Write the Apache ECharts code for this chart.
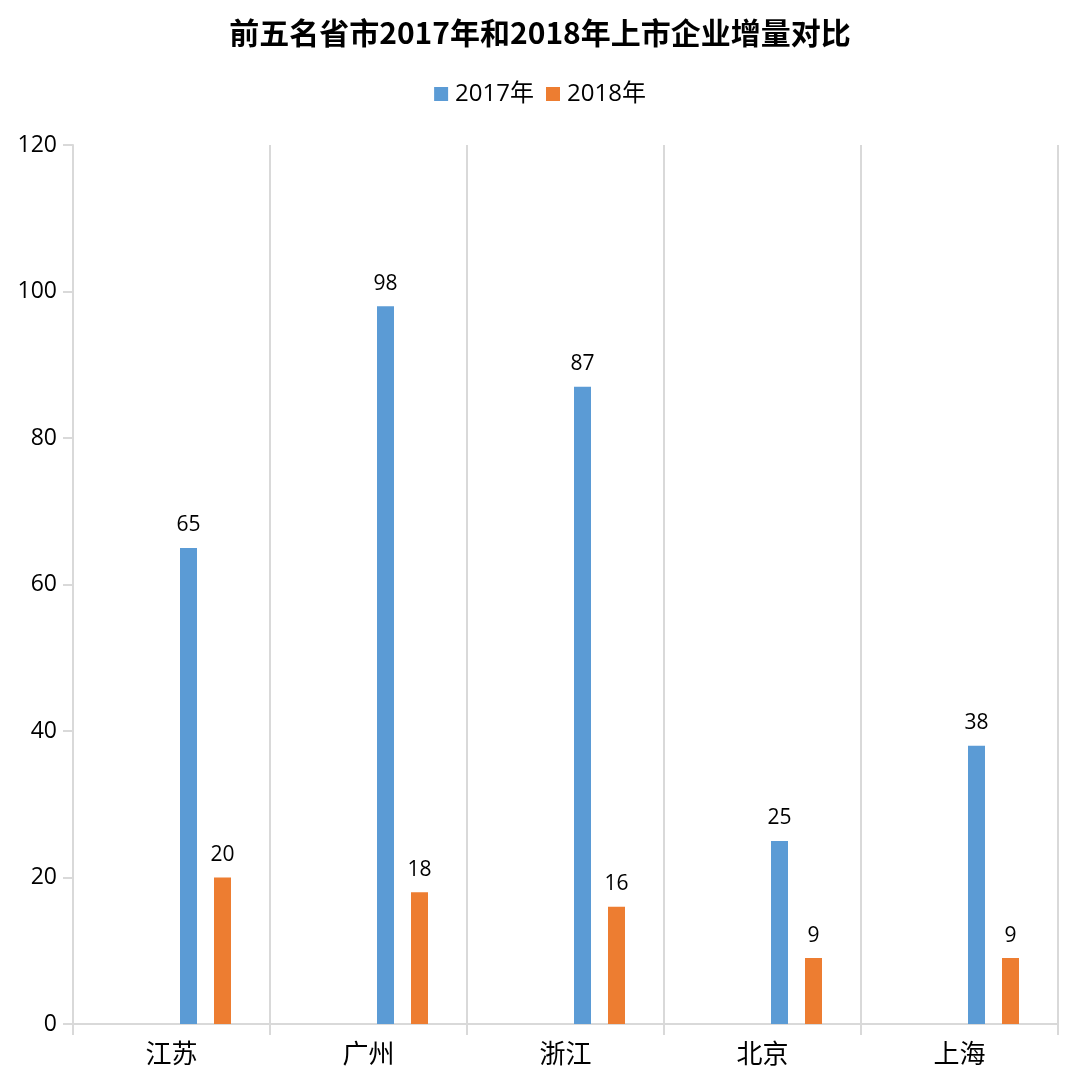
<!DOCTYPE html>
<html><head><meta charset="utf-8">
<script src="https://cdn.jsdelivr.net/npm/echarts@6/dist/echarts.min.js"></script>
<style>html,body{margin:0;padding:0;background:#fff}#c{width:1080px;height:1091px}</style>
</head><body><div id="c"></div>
<script>
const categories = ['江苏','广州','浙江','北京','上海'];
const seriesNames = ['2017年','2018年'];
const values2017 = [65, 98, 87, 25, 38];
const values2018 = [20, 18, 16, 9, 9];
const yTicks = [0, 20, 40, 60, 80, 100, 120];

const font = '"Open Sans","Noto Sans CJK SC",sans-serif';
const chart = echarts.init(document.getElementById('c'));
const lbl = {show:true, position:'top', distance:12, color:'#000', fontSize:21, fontFamily:font};
chart.setOption({
  animation:false,
  title:{text:'前五名省市2017年和2018年上市企业增量对比', left:'center', top:13,
    textStyle:{fontFamily:'"Noto Sans CJK SC",sans-serif', fontWeight:'bold', fontSize:30, color:'#000'}},
  legend:{data:seriesNames, top:77, left:'center', itemWidth:14, itemHeight:14, itemGap:12,
    icon:'rect',
    textStyle:{fontFamily:font, fontSize:24, color:'#000', padding:[0,0,0,2]}},
  grid:{left:73, right:22, top:145, bottom:67, containLabel:false},
  xAxis:{type:'category', data:categories, boundaryGap:true,
    axisLine:{lineStyle:{color:'#d9d9d9', width:2}},
    axisTick:{show:true, length:11, lineStyle:{color:'#d9d9d9', width:2}},
    splitLine:{show:true, lineStyle:{color:'#d9d9d9', width:2}},
    axisLabel:{fontFamily:font, fontSize:26, color:'#000', margin:19}},
  yAxis:{type:'value', min:yTicks[0], max:yTicks[yTicks.length-1], interval:20,
    axisLine:{show:true, lineStyle:{color:'#d9d9d9', width:2}},
    axisTick:{show:true, length:10, lineStyle:{color:'#d9d9d9', width:2}},
    splitLine:{show:false},
    axisLabel:{fontFamily:font, fontSize:23, color:'#000', margin:16}},
  series:[
    {name:'_a', type:'bar', data:[], barWidth:17, barGap:'100%'},
    {name:'_b', type:'bar', data:[], barWidth:17, barGap:'100%'},
    {name:seriesNames[0], type:'bar', data:values2017, barWidth:17, barGap:'100%',
      itemStyle:{color:'#5b9bd5'}, label:lbl},
    {name:seriesNames[1], type:'bar', data:values2018, barWidth:17, barGap:'100%',
      itemStyle:{color:'#ed7d31'}, label:lbl}
  ]
});
</script></body></html>
